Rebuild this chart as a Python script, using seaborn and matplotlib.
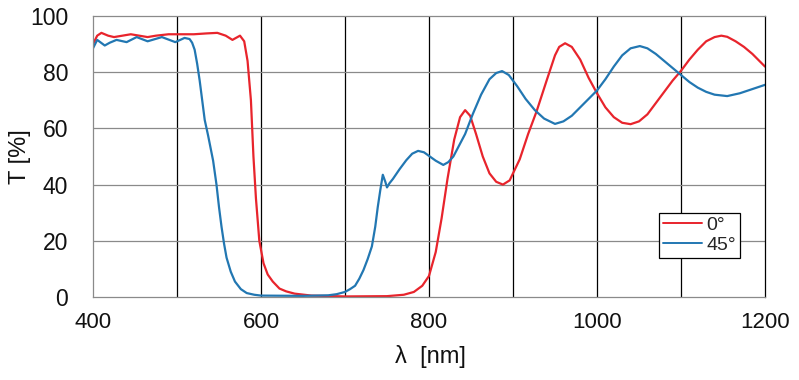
import matplotlib
matplotlib.use("Agg")
import matplotlib.pyplot as plt
import seaborn as sns
import pandas as pd

# ---- data ----
wl_0 = [400, 405, 410, 418, 425, 435, 445, 455, 465, 475, 490, 505, 520, 535, 548, 558, 566, 575,
        580, 584, 588, 591, 594, 598, 603, 608, 614, 622, 630, 640, 660, 700, 750, 770, 782, 792,
        800, 808, 815, 822, 830, 837, 843, 849, 856, 864, 872, 880, 888, 896, 908, 918, 928, 940,
        950, 955, 962, 970, 980, 990, 1000, 1010, 1020, 1030, 1040, 1050, 1060, 1070, 1080, 1090,
        1100, 1110, 1120, 1130, 1140, 1148, 1155, 1165, 1175, 1185, 1200]
t_0 = [90, 93, 94, 93, 92.5, 93, 93.5, 93, 92.5, 93, 93.5, 93.5, 93.5, 93.8, 94, 93, 91.5, 93,
       91, 84, 70, 50, 35, 20, 12, 8, 5.5, 3, 2, 1.2, 0.5, 0.2, 0.3, 0.8, 1.8, 4,
       7.5, 16, 28, 42, 56, 64, 66.5, 64.5, 58, 50, 44, 41, 40, 41.5, 49, 58, 66, 77,
       86, 89, 90.3, 89, 84.5, 78, 72.5, 67.5, 64, 62, 61.5, 62.5, 65, 69, 73, 77,
       80.5, 84.5, 88, 91, 92.5, 93, 92.6, 91, 89, 86.5, 82]

wl_45 = [400, 405, 414, 420, 428, 440, 452, 465, 482, 498, 509, 515, 518, 521, 524, 527, 530, 533,
         537, 540, 543, 547, 550, 553, 556, 559, 564, 569, 576, 583, 592, 600, 650, 680, 690, 700,
         706, 712, 717, 722, 727, 732, 736, 739, 742, 745, 748, 750, 753, 757, 765, 773, 780, 787,
         794, 801, 808, 817, 823, 829, 836, 843, 852, 862, 872, 880, 887, 895, 905, 915, 926, 937,
         950, 960, 970, 980, 990, 1000, 1010, 1020, 1030, 1040, 1051, 1060, 1070, 1080, 1090, 1100,
         1110, 1120, 1130, 1140, 1155, 1170, 1185, 1200]
t_45 = [88.5, 91.5, 89.5, 90.5, 91.5, 90.7, 92.5, 91, 92.5, 90.7, 92.2, 91.8, 90.5, 88, 83, 77, 70, 63,
        57.5, 53, 48.5, 40, 32, 25, 19, 14, 9, 5.5, 2.8, 1.4, 0.8, 0.5, 0.4, 0.6, 1, 1.8,
        2.8, 4, 6.5, 9.6, 13.5, 18, 25, 32, 38, 43.5, 41, 39, 40.5, 42, 45.5, 48.7, 51, 52,
        51.5, 50, 48.5, 47, 48, 50, 54, 58, 65, 72, 77.5, 79.7, 80.4, 79, 75, 70.5, 66.5, 63.5,
        61.6, 62.5, 64.5, 67.5, 70.5, 73.5, 77.5, 82, 86, 88.5, 89.3, 88.5, 86.5, 84, 81.5, 79,
        76.5, 74.5, 73, 72, 71.5, 72.5, 74, 75.5]

labels = ["0°", "45°"]
colors = ["#e8242c", "#2277b2"]
x_ticks = [400, 600, 800, 1000, 1200]
y_ticks = [0, 20, 40, 60, 80, 100]

df = pd.concat([
    pd.DataFrame({"wl": wl_0, "T": t_0, "angle": labels[0]}),
    pd.DataFrame({"wl": wl_45, "T": t_45, "angle": labels[1]}),
], ignore_index=True)

sns.set_theme(style="white")
plt.rcParams["font.family"] = ["Liberation Sans", "DejaVu Sans"]

fig = plt.figure(figsize=(7.99, 3.80), dpi=100)
ax = fig.add_axes([93 / 799, 1 - 297 / 380, (765 - 93) / 799, (297 - 16) / 380])

sns.lineplot(data=df, x="wl", y="T", hue="angle", palette=dict(zip(labels, colors)),
             linewidth=1.6, ax=ax, sort=False, estimator=None, legend=True)

ax.set_xlim(400, 1200)
ax.set_ylim(0, 100)
ax.set_xticks(x_ticks)
ax.set_yticks(y_ticks)
for v in [500, 600, 700, 800, 900, 1000, 1100]:
    ax.axvline(v, color="black", lw=0.9, zorder=0)
for v in [20, 40, 60, 80]:
    ax.axhline(v, color="#8a8a8a", lw=0.9, zorder=0)
for s in ["left", "top", "bottom"]:
    ax.spines[s].set_color("#8a8a8a")
    ax.spines[s].set_linewidth(0.9)
ax.spines["right"].set_color("black")
ax.spines["right"].set_linewidth(0.9)

ax.tick_params(axis="both", length=0)
ax.tick_params(axis="y", pad=18, labelsize=16.5, labelcolor="#111111")
ax.tick_params(axis="x", pad=11, labelsize=16, labelcolor="#111111")

ax.set_xlabel("λ  [nm]", fontsize=17, color="#111111")
ax.xaxis.set_label_coords((430 - 93) / 672, -(357 - 297) / 281)
ax.set_ylabel("T [%]", fontsize=17, color="#111111")
ax.yaxis.set_label_coords(-(93 - 20) / 672, 0.5)
ax.xaxis.label.set_va("center")
ax.yaxis.label.set_va("center")

leg = ax.legend(loc="upper left", bbox_to_anchor=(0.842, 0.30), frameon=True, fancybox=False,
                edgecolor="black", fontsize=14, handlelength=2.0, handletextpad=0.25,
                borderpad=0.2, labelspacing=0.1, borderaxespad=0, title=None)
leg.get_frame().set_linewidth(0.9)
leg.get_frame().set_alpha(1)
for line in leg.get_lines():
    line.set_linewidth(1.4)

fig.savefig("out.png", dpi=100)
